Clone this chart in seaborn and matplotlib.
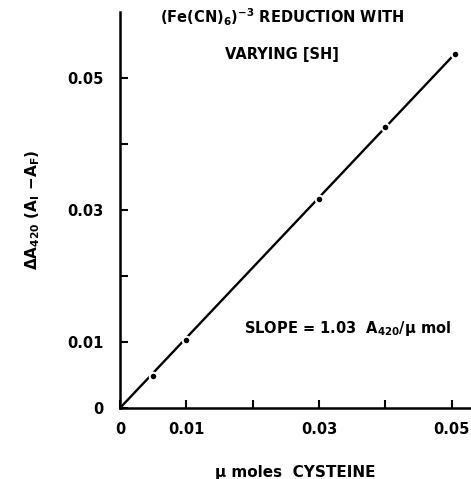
import matplotlib
matplotlib.use("Agg")
import matplotlib.pyplot as plt
import seaborn as sns
import pandas as pd

# Data
cysteine = [0.005, 0.01, 0.03, 0.04, 0.0505]
delta_a = [0.0048, 0.0103, 0.0317, 0.0425, 0.0537]
fit_x = [0.0, 0.0505]
fit_y = [0.0, 0.0537]
x_ticks = [0.0, 0.01, 0.02, 0.03, 0.04, 0.05]
x_labels = ["0", "0.01", "", "0.03", "", "0.05"]
y_ticks = [0.0, 0.01, 0.02, 0.03, 0.04, 0.05]
y_labels = ["0", "0.01", "", "0.03", "", "0.05"]

sns.set_style("ticks")
plt.rcParams["font.family"] = ["DejaVu Sans"]
plt.rcParams["mathtext.fontset"] = "dejavusans"
plt.rcParams["mathtext.default"] = "bf"
plt.rcParams["text.color"] = "black"
plt.rcParams["axes.labelcolor"] = "black"
plt.rcParams["xtick.color"] = "black"
plt.rcParams["ytick.color"] = "black"

fig = plt.figure(figsize=(4.71, 4.79), dpi=100)
ax = fig.add_axes([120 / 471, 71 / 479, 1 - 120 / 471, 1 - 83 / 479])

pts = pd.DataFrame({"x": cysteine, "y": delta_a})
fit = pd.DataFrame({"x": fit_x, "y": fit_y})
sns.lineplot(data=fit, x="x", y="y", ax=ax, color="black", linewidth=1.7)
sns.scatterplot(data=pts, x="x", y="y", ax=ax, color="black", s=30,
                edgecolor="white", linewidth=1.5, zorder=3)

ax.set_xlim(0, 0.0529)
ax.set_ylim(0, 0.06)
ax.set_xticks(x_ticks)
ax.set_xticklabels(x_labels)
ax.set_yticks(y_ticks)
ax.set_yticklabels(y_labels)
for lab in ax.get_xticklabels() + ax.get_yticklabels():
    lab.set_fontweight("bold")
    lab.set_fontsize(10.5)
    lab.set_color("black")
ax.tick_params(direction="in", length=6, width=1.5, pad=10, color="black")
ax.tick_params(axis="y", pad=12)
for s in ["top", "right"]:
    ax.spines[s].set_visible(False)
for s in ["left", "bottom"]:
    ax.spines[s].set_linewidth(1.8)
    ax.spines[s].set_color("black")

ax.set_xlabel("μ moles  CYSTEINE", fontsize=11, fontweight="bold", labelpad=20, color="black")
ax.set_ylabel(r"ΔA$_{420}$ (A$_{I}$ $-$A$_{F}$)", fontsize=11, fontweight="bold", labelpad=18, color="black")

fig.text(282 / 471, 1 - 17 / 479, "(Fe(CN)$_{6}$)$^{-3}$ REDUCTION WITH",
         ha="center", va="center", fontsize=10.5, fontweight="bold", color="black")
fig.text(282 / 471, 1 - 54 / 479, "VARYING [SH]",
         ha="center", va="center", fontsize=10.5, fontweight="bold", color="black")
fig.text(348 / 471, 1 - 328 / 479, r"SLOPE = 1.03  A$_{420}$/μ mol",
         ha="center", va="center", fontsize=10.5, fontweight="bold", color="black")

fig.savefig("out.png", dpi=100, facecolor="white")
